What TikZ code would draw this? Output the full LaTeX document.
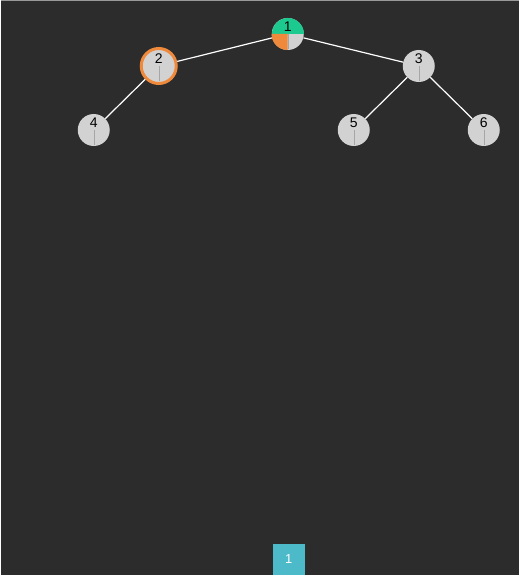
\documentclass[tikz,border=0pt]{standalone}
\usepackage{fontspec}
\setmainfont{Liberation Sans}
\definecolor{bgdark}{HTML}{2C2C2C}
\definecolor{nodegray}{HTML}{D2D2D2}
\definecolor{topgreen}{HTML}{1CC98F}
\definecolor{markorange}{HTML}{EF8A3C}
\definecolor{pagecyan}{HTML}{4DBACA}
\tikzset{
    treenode/.style={circle, fill=nodegray, minimum size=32pt, inner sep=0pt},
    numtext/.style={font=\fontsize{14}{16}\selectfont, text=black},
    edge/.style={draw=white, line width=1.2pt},
    stem/.style={draw=gray!70, line width=0.5pt}
}
\begin{document}
\begin{tikzpicture}[x=1pt, y=-1pt]
    \fill[bgdark] (0,0) rectangle (518,575);
    \draw[draw=gray!80, line width=1.5pt] (0,0.75) -- (518,0.75);
    % nodes
    \node[treenode] (n1) at (287,34) {};
    \node[treenode, draw=markorange, line width=3pt, minimum size=35pt] (n2) at (158,66) {};
    \node[treenode] (n3) at (418,66) {};
    \node[treenode] (n4) at (93,130) {};
    \node[treenode] (n5) at (353,130) {};
    \node[treenode] (n6) at (483,130) {};
    % edges
    \draw[edge] (n1) -- (n2);
    \draw[edge] (n1) -- (n3);
    \draw[edge] (n2) -- (n4);
    \draw[edge] (n3) -- (n5);
    \draw[edge] (n3) -- (n6);
    % root quarters
    \fill[topgreen] (n1.east) arc (0:-180:16) -- cycle;
    \fill[markorange] (n1.center) -- (n1.west) arc (180:90:16) -- cycle;
    % stems and numbers
    \foreach \n/\t in {n1/1, n2/2, n3/3, n4/4, n5/5, n6/6} {
        \draw[stem] (\n.center) -- ++(0,15);
        \node[numtext] at ([yshift=7.5pt]\n.center) {\t};
    }
    % page box
    \node[fill=pagecyan, minimum width=32pt, minimum height=31pt, inner sep=0pt, text=white, font=\fontsize{13}{15}\selectfont] (page) at (288,559.5) {1};
\end{tikzpicture}
\end{document}
